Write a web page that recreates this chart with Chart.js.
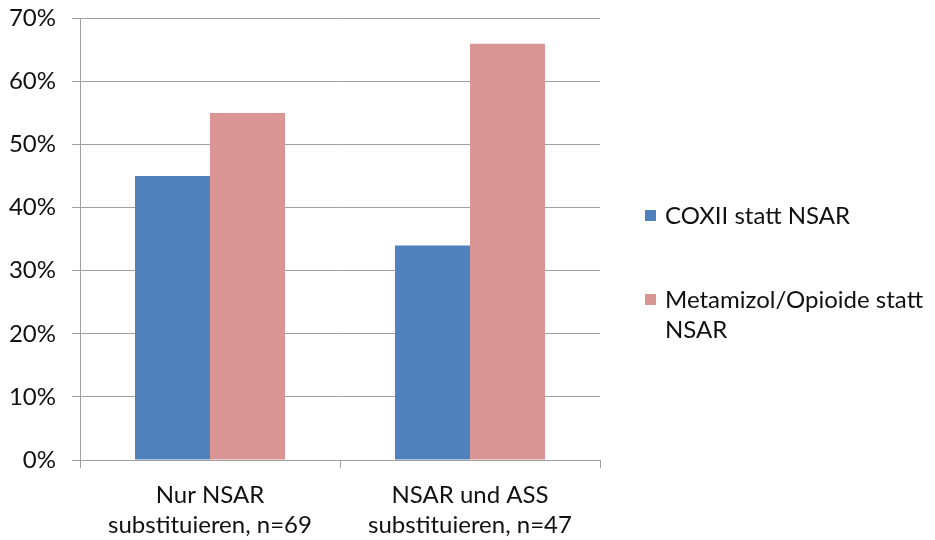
<!DOCTYPE html>
<html>
<head>
<meta charset="utf-8">
<script src="https://cdn.jsdelivr.net/npm/chart.js@4"></script>
<style>
  html, body { margin: 0; padding: 0; background: #fff; overflow: hidden; }
  #wrap { position: relative; width: 935px; height: 540px; overflow: hidden; }
  #chart { position: absolute; left: 0; top: -12px; }
  #legend { position: absolute; left: 643px; top: 200px; font-family: Lato, "Open Sans", sans-serif; font-size: 24px; color: #111; }
  .item { position: absolute; left: 0; white-space: nowrap; line-height: 30px; }
  .box { position: absolute; left: 2px; top: 10px; width: 11px; height: 11px; }
  .txt { position: absolute; left: 22px; top: 0; }
</style>
</head>
<body>
<div id="wrap">
  <canvas id="chart" width="935" height="552"></canvas>
  <div id="legend"></div>
</div>
<script>
// categories and series
const categories = [["Nur NSAR", "substituieren, n=69"], ["NSAR und ASS", "substituieren, n=47"]];
const seriesNames = ["COXII statt NSAR", "Metamizol/Opioide statt NSAR"];
const legendLines = [["COXII statt NSAR"], ["Metamizol/Opioide statt", "NSAR"]];
const coxValues = [45, 34];
const metamizolValues = [55, 66];
const colors = ["#4f81bd", "#d99694"];

const gridColor = "#a0a0a0";
const fontFamily = "Lato, 'Open Sans', sans-serif";

let ctx = document.getElementById("chart").getContext("2d");
new Chart(ctx, {
    type: "bar",
    data: {
        labels: categories,
        datasets: [
            { label: seriesNames[0], data: coxValues, backgroundColor: colors[0] },
            { label: seriesNames[1], data: metamizolValues, backgroundColor: colors[1] }
        ]
    },
    options: {
        responsive: false,
        animation: false,
        layout: { padding: { top: 0, right: 335, left: 0, bottom: 0 } },
        datasets: { bar: { categoryPercentage: 0.577, barPercentage: 1.0 } },
        plugins: { legend: { display: false }, tooltip: { enabled: false } },
        scales: {
            x: {
                grid: { offset: true, drawOnChartArea: false, drawTicks: true, tickLength: 8, color: gridColor },
                border: { color: gridColor },
                ticks: { padding: 12, color: "#111", font: { family: fontFamily, size: 24, lineHeight: 1.25 } },
                afterFit: scale => { scale.height = 80; }
            },
            y: {
                min: 0,
                max: 70,
                ticks: {
                    stepSize: 10,
                    padding: 16,
                    color: "#111",
                    font: { family: fontFamily, size: 24 },
                    callback: v => v + "%"
                },
                grid: { color: gridColor, tickLength: 8 },
                border: { color: gridColor },
                afterFit: scale => { scale.width = 80; }
            }
        }
    }
});

// legend on the right, with wrapped text
let legend = document.getElementById("legend");
let tops = [0, 84];
legendLines.forEach((lines, i) => {
    legend.innerHTML += `
        <div class="item" style="top:${tops[i]}px">
            <div class="box" style="background:${colors[i]}"></div>
            <div class="txt">${lines.join("<br>")}</div>
        </div>
    `;
});
</script>
</body>
</html>
